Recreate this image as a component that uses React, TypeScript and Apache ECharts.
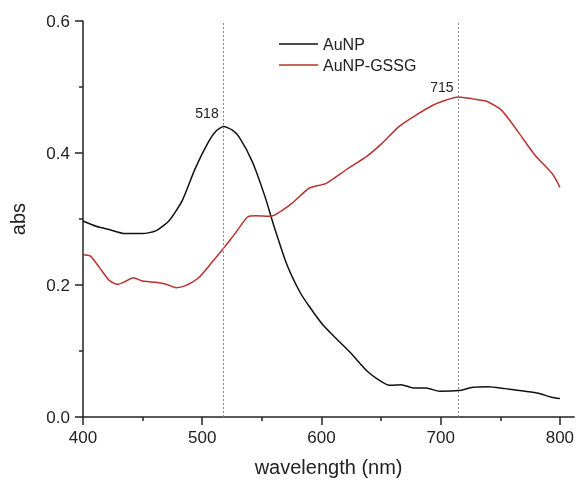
import React, { useEffect, useRef } from "react";
import * as echarts from "echarts";

const seriesNames = ["AuNP", "AuNP-GSSG"];

const auNP: [number, number][] = [
  [400, 0.297], [411, 0.289], [422, 0.284], [435, 0.278], [450, 0.278], [461, 0.282],
  [472, 0.297], [483, 0.327], [494, 0.376], [505, 0.416], [512, 0.434], [518, 0.44],
  [525, 0.435], [531, 0.424], [542, 0.387], [553, 0.332], [560, 0.29], [571, 0.231],
  [582, 0.189], [590, 0.167], [601, 0.14], [610, 0.123], [624, 0.098], [638, 0.07],
  [649, 0.055], [657, 0.048], [667, 0.049], [677, 0.044], [688, 0.044], [699, 0.039],
  [715, 0.04], [727, 0.045], [740, 0.046], [754, 0.043], [771, 0.039], [782, 0.036],
  [793, 0.03], [800, 0.028],
];

const auNPGSSG: [number, number][] = [
  [400, 0.246], [406, 0.244], [414, 0.226], [422, 0.207], [429, 0.201], [435, 0.205],
  [442, 0.211], [450, 0.206], [461, 0.204], [470, 0.201], [478, 0.196], [486, 0.199],
  [497, 0.211], [508, 0.234], [518, 0.256], [528, 0.279], [538, 0.303], [545, 0.305],
  [557, 0.304], [574, 0.322], [590, 0.347], [604, 0.354], [621, 0.375], [638, 0.395],
  [651, 0.415], [665, 0.44], [679, 0.457], [693, 0.472], [704, 0.48], [715, 0.485],
  [727, 0.482], [739, 0.478], [751, 0.465], [765, 0.432], [779, 0.397], [793, 0.37],
  [797, 0.359], [800, 0.348],
];

const xMajorTicks = [400, 500, 600, 700, 800];
const xMinorTicks = [450, 550, 650, 750];
const peakMarkers = [518, 715];
const peakLabelY = [0.46, 0.5];

const FONT = "Liberation Sans, Arial, Helvetica, sans-serif";

export default function App() {
  const ref = useRef<HTMLDivElement>(null);
  useEffect(() => {
    if (!ref.current) return;
    const chart = echarts.init(ref.current, null, { renderer: "svg" });
    const axisColor = "#222";
    chart.setOption({
      animation: false,
      grid: { left: 81, right: 2, top: 21, bottom: 62 },
      legend: {
        orient: "vertical",
        left: 274,
        top: 31,
        itemWidth: 39,
        itemHeight: 1.5,
        itemGap: 5,
        icon: "rect",
        data: seriesNames,
        textStyle: { fontSize: 16, color: "#222", fontFamily: FONT, lineHeight: 16 },
      },
      xAxis: [
        {
          type: "value",
          min: 400,
          max: 812,
          interval: 50,
          name: "wavelength (nm)",
          nameLocation: "middle",
          nameGap: 40,
          nameTextStyle: { fontSize: 20, color: "#222", fontFamily: FONT },
          axisLine: { show: true, lineStyle: { color: axisColor, width: 1.5 } },
          axisTick: { show: true, length: 8, customValues: xMajorTicks, lineStyle: { color: axisColor, width: 1.5 } },
          axisLabel: { customValues: xMajorTicks, fontSize: 17, color: "#222", margin: 12, fontFamily: FONT },
          splitLine: { show: false },
        },
        {
          type: "value",
          min: 400,
          max: 812,
          interval: 50,
          position: "bottom",
          axisLine: { show: false },
          axisTick: { show: true, length: 4, customValues: xMinorTicks, lineStyle: { color: axisColor, width: 1.5 } },
          axisLabel: { show: false },
          splitLine: { show: false },
        },
      ],
      yAxis: {
        type: "value",
        min: 0,
        max: 0.6,
        interval: 0.2,
        name: "abs",
        nameLocation: "middle",
        nameGap: 55,
        nameTextStyle: { fontSize: 20, color: "#222", fontFamily: FONT },
        axisLine: { show: true, lineStyle: { color: axisColor, width: 1.5 } },
        axisTick: { show: true, length: 8, lineStyle: { color: axisColor, width: 1.5 } },
        minorTick: { show: true, splitNumber: 2, length: 4, lineStyle: { color: axisColor, width: 1.5 } },
        axisLabel: {
          fontSize: 17,
          color: "#222",
          margin: 13,
          fontFamily: FONT,
          formatter: (v: number) => v.toFixed(1),
        },
        splitLine: { show: false },
      },
      series: [
        {
          name: seriesNames[0],
          type: "line",
          data: auNP,
          smooth: 0.2,
          symbol: "none",
          lineStyle: { color: "#111", width: 1.5 },
          itemStyle: { color: "#111" },
          markLine: {
            silent: true,
            symbol: "none",
            label: { show: false },
            lineStyle: { color: "#888", type: [2, 2], width: 1 },
            data: peakMarkers.map((x) => ({ xAxis: x })),
          },
          markPoint: {
            symbol: "circle",
            symbolSize: 0,
            label: {
              show: true,
              position: "left",
              distance: 5,
              fontSize: 14,
              color: "#222",
              fontFamily: FONT,
              formatter: (p: any) => String(p.data.coord[0]),
            },
            data: peakMarkers.map((x, i) => ({ coord: [x, peakLabelY[i]] })),
          },
        },
        {
          name: seriesNames[1],
          type: "line",
          data: auNPGSSG,
          smooth: 0.2,
          symbol: "none",
          lineStyle: { color: "#b9332f", width: 1.5 },
          itemStyle: { color: "#b9332f" },
        },
      ],
    });
    return () => chart.dispose();
  }, []);
  return (
    <div
      ref={ref}
      style={{ position: "fixed", left: 0, top: 0, width: 577, height: 482 }}
    />
  );
}
